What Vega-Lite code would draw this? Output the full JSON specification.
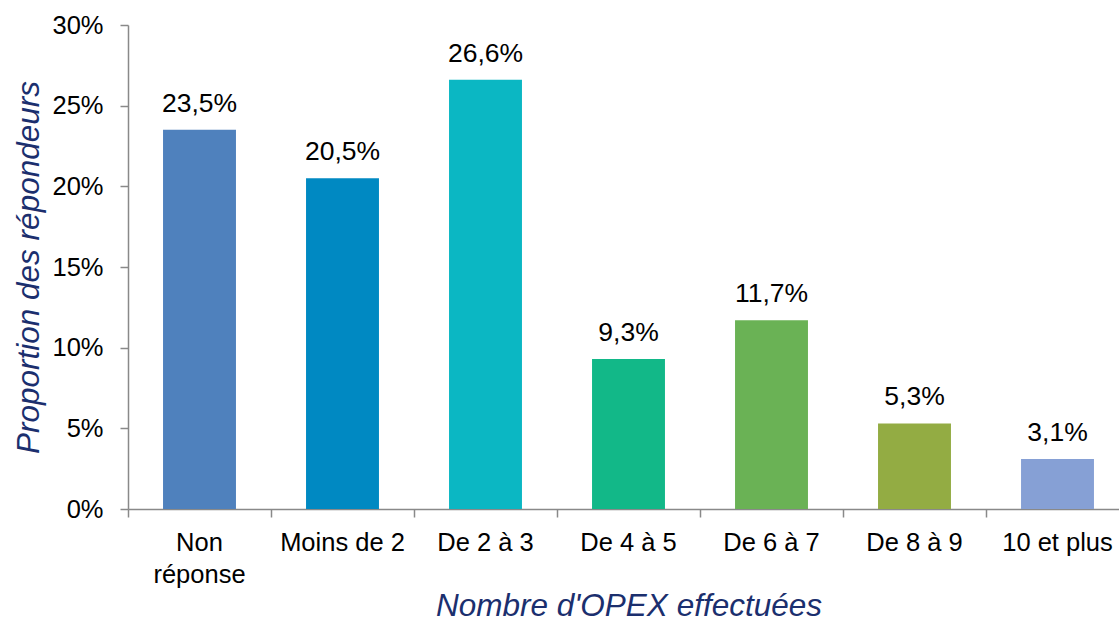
{
  "$schema": "https://vega.github.io/schema/vega-lite/v6.json",
  "autosize": "none",
  "padding": {"left": 128, "top": 25, "right": 0, "bottom": 116},
  "width": 1001,
  "height": 484,
  "background": "white",
  "config": {
    "view": {"stroke": null},
    "font": "Liberation Sans",
    "locale": {"number": {"decimal": ",", "thousands": " ", "grouping": [3], "currency": ["", " €"]}}
  },
  "data": {
    "values": [
      {"categorie": "Non réponse", "proportion": 0.235, "couleur": "#4F81BD"},
      {"categorie": "Moins de 2", "proportion": 0.205, "couleur": "#0089C2"},
      {"categorie": "De 2 à 3", "proportion": 0.266, "couleur": "#0BB7C3"},
      {"categorie": "De 4 à 5", "proportion": 0.093, "couleur": "#12B888"},
      {"categorie": "De 6 à 7", "proportion": 0.117, "couleur": "#6AB255"},
      {"categorie": "De 8 à 9", "proportion": 0.053, "couleur": "#93AC43"},
      {"categorie": "10 et plus", "proportion": 0.031, "couleur": "#86A0D5"}
    ]
  },
  "encoding": {
    "x": {
      "field": "categorie",
      "type": "nominal",
      "sort": null,
      "scale": {"paddingInner": 0, "paddingOuter": 0},
      "axis": {
        "title": "Nombre d'OPEX effectuées",
        "titleFont": "Liberation Sans",
        "titleFontStyle": "italic",
        "titleFontWeight": "normal",
        "titleFontSize": 31.5,
        "titleColor": "#1B2F6E",
        "titlePadding": 3,
        "labelAngle": 0,
        "labelFontSize": 25.5,
        "labelColor": "#000000",
        "labelPadding": 13,
        "labelLineHeight": 32,
        "labelExpr": "datum.value == 'Non réponse' ? ['Non', 'réponse'] : datum.value",
        "bandPosition": 0,
        "tickSize": 8,
        "tickColor": "#898989",
        "tickWidth": 1.5,
        "domainColor": "#898989",
        "domainWidth": 1.5,
        "grid": false
      }
    },
    "y": {
      "field": "proportion",
      "type": "quantitative",
      "scale": {"domain": [0, 0.3], "nice": false},
      "axis": {
        "title": "Proportion des répondeurs",
        "titleFont": "Liberation Sans",
        "titleFontStyle": "italic",
        "titleFontWeight": "normal",
        "titleFontSize": 31.5,
        "titleColor": "#1B2F6E",
        "titlePadding": 6,
        "values": [0, 0.05, 0.1, 0.15, 0.2, 0.25, 0.3],
        "format": ".0%",
        "labelFontSize": 25.5,
        "labelColor": "#000000",
        "labelPadding": 17,
        "tickSize": 8,
        "tickColor": "#898989",
        "tickWidth": 1.5,
        "domainColor": "#898989",
        "domainWidth": 1.5,
        "grid": false
      }
    }
  },
  "layer": [
    {
      "mark": {"type": "bar", "width": {"band": 0.51}},
      "encoding": {
        "color": {"field": "couleur", "type": "nominal", "scale": null, "legend": null}
      }
    },
    {
      "mark": {"type": "text", "baseline": "bottom", "dy": -12, "fontSize": 26.5, "color": "#000000"},
      "encoding": {
        "text": {"field": "proportion", "type": "quantitative", "format": ".1%"}
      }
    }
  ]
}
